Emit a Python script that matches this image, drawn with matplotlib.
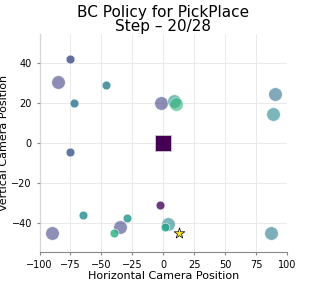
import matplotlib
matplotlib.use("Agg")
import matplotlib.pyplot as plt
import numpy as np

# candidate points (x, y), viridis value and big/small flag
px = [-75, -85, -46, -72, -75, -2, 9, 10, 90, 89, -3, -65, -29, -35, -40, -90, 4, 1, 87]
py = [42, 30.5, 29, 20, -4.5, 20, 21, 19.5, 24.5, 14.5, -31, -36, -37.5, -42, -45, -45, -40.5, -42, -45]
pc = [0.22, 0.18, 0.42, 0.38, 0.26, 0.2, 0.5, 0.66, 0.36, 0.46, 0.02, 0.48, 0.52, 0.2, 0.62, 0.2, 0.46, 0.58, 0.4]
big = [0, 1, 0, 0, 0, 1, 1, 1, 1, 1, 0, 0, 0, 1, 0, 1, 1, 0, 1]

agent = (0, 0)
goal = (13, -45)

cmap = plt.get_cmap("viridis")

fig = plt.figure(figsize=(3.19, 2.84), dpi=100)
ax = fig.add_axes([0.124, 0.113, 0.776, 0.767])

for x, y, c, b in zip(px, py, pc, big):
    if b:
        ax.scatter(x, y, s=95, color=cmap(c), alpha=0.6, edgecolors="white", linewidths=0.5, zorder=3)
    else:
        ax.scatter(x, y, s=40, color=cmap(c), alpha=0.8, edgecolors="white", linewidths=0.5, zorder=3)

ax.scatter(agent[0], agent[1], s=140, marker="s", color=cmap(0.0), edgecolors="#cccccc", linewidths=0.6, zorder=3)
ax.scatter(goal[0], goal[1], s=65, marker="*", color=cmap(1.0), edgecolors="black", linewidths=0.5, zorder=4)

ax.set_xlim(-100, 100)
ax.set_ylim(-54.5, 54.5)
ax.set_xticks([-100, -75, -50, -25, 0, 25, 50, 75, 100])
ax.set_yticks([-40, -20, 0, 20, 40])
ax.grid(True, color="#e6e6e6", linewidth=0.6, zorder=5)
ax.set_axisbelow(False)
for s in ["top", "right"]:
    ax.spines[s].set_visible(False)
ax.spines["left"].set_color("#888888")
ax.spines["bottom"].set_color("#888888")
ax.tick_params(labelsize=7, length=2, color="#888888")
ax.set_xlabel("Horizontal Camera Position", fontsize=8, labelpad=1)
ax.set_ylabel("Vertical Camera Position", fontsize=8, labelpad=2)
ax.set_title("BC Policy for PickPlace\nStep \u2013 20/28", fontsize=11, linespacing=0.9, pad=1)

fig.savefig("out.png", dpi=100)
